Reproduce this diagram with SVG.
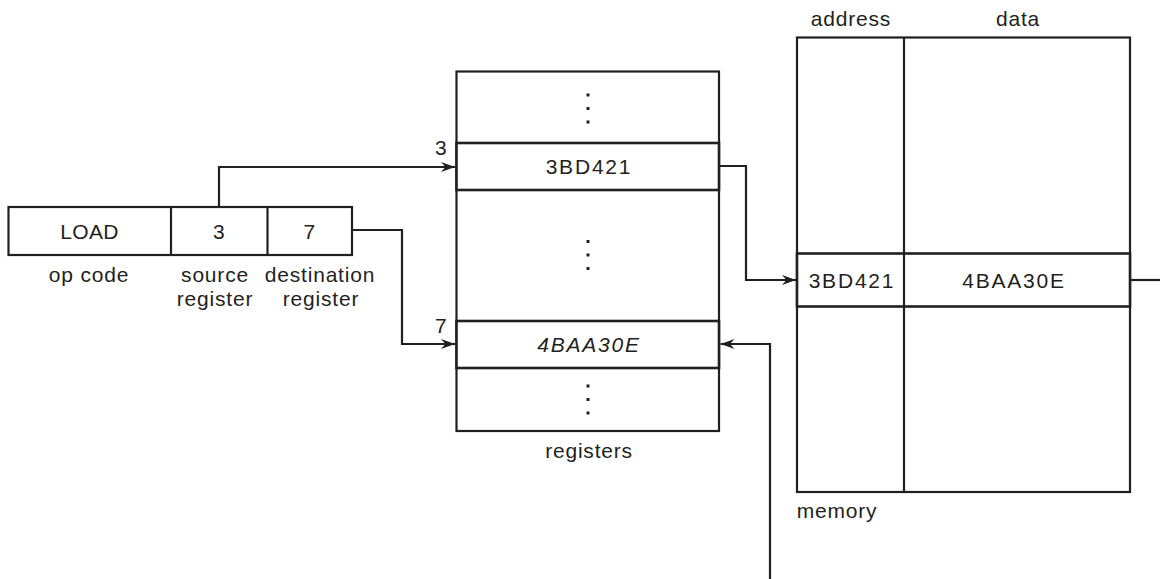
<svg xmlns="http://www.w3.org/2000/svg" width="1160" height="579" viewBox="0 0 1160 579">
<style>
  .box { fill: #ffffff; stroke: #231f20; stroke-width: 2.2; }
  .row { fill: #ffffff; stroke: #231f20; stroke-width: 2.6; }
  .ln { fill: none; stroke: #231f20; stroke-width: 2.2; }
  .wire { fill: none; stroke: #231f20; stroke-width: 2.2; }
  text { font-family: "Liberation Sans", Arial, sans-serif; font-size: 21px; fill: #231f20; text-anchor: middle; letter-spacing: 0.8px; }
  .cap { letter-spacing: 0.3px; }
  .hex { letter-spacing: 1.8px; }
  .it { font-style: italic; }
  .dot { fill: #231f20; }
</style>
<defs>
  <marker id="arr" markerUnits="userSpaceOnUse" markerWidth="16" markerHeight="12" viewBox="-14 -6 16 12" refX="0" refY="0" orient="auto">
    <path d="M0,0 L-14,-5 L-9.5,0 L-14,5 Z" fill="#231f20"/>
  </marker>
</defs>

<g id="instruction">
  <rect class="box" x="8.5" y="207" width="343.5" height="48"/>
  <line class="ln" x1="171" y1="207" x2="171" y2="255"/>
  <line class="ln" x1="267.5" y1="207" x2="267.5" y2="255"/>
  <text class="cap" x="89.5" y="239">LOAD</text>
  <text class="cap" x="219" y="239">3</text>
  <text class="cap" x="309.5" y="239">7</text>
  <text x="89" y="282">op code</text>
  <text x="215" y="282">source</text>
  <text x="215" y="306">register</text>
  <text x="320" y="282">destination</text>
  <text x="321" y="306">register</text>
</g>

<g id="registers">
  <rect class="box" x="456.5" y="71.5" width="262.5" height="359.5"/>
  <rect class="row" x="456.5" y="143" width="262.5" height="47"/>
  <rect class="row" x="456.5" y="321" width="262.5" height="47"/>
  <rect class="dot" x="586.5" y="93.5" width="3" height="3"/>
  <rect class="dot" x="586.5" y="107" width="3" height="3"/>
  <rect class="dot" x="586.5" y="120.5" width="3" height="3"/>
  <rect class="dot" x="586.5" y="240" width="3" height="3"/>
  <rect class="dot" x="586.5" y="253.5" width="3" height="3"/>
  <rect class="dot" x="586.5" y="267" width="3" height="3"/>
  <rect class="dot" x="586.5" y="384.5" width="3" height="3"/>
  <rect class="dot" x="586.5" y="398" width="3" height="3"/>
  <rect class="dot" x="586.5" y="411.5" width="3" height="3"/>
  <text class="hex" x="589" y="174">3BD421</text>
  <text class="hex it" x="589" y="352">4BAA30E</text>
  <text x="589" y="458">registers</text>
  <text class="cap" x="441" y="155">3</text>
  <text class="cap" x="441" y="333">7</text>
</g>

<g id="memory">
  <rect class="box" x="797" y="37.5" width="333" height="454.5"/>
  <line class="ln" x1="904" y1="37.5" x2="904" y2="492"/>
  <rect class="row" x="797" y="253.5" width="333" height="53"/>
  <line class="ln" x1="904" y1="253.5" x2="904" y2="306.5"/>
  <text x="851" y="26">address</text>
  <text x="1018" y="26">data</text>
  <text class="hex" x="852" y="288">3BD421</text>
  <text class="hex" x="1014" y="288">4BAA30E</text>
  <text x="837" y="518">memory</text>
</g>

<g id="connectors">
  <path class="wire" d="M219,207 V167 H455" marker-end="url(#arr)"/>
  <path class="wire" d="M352,230 H402 V344 H455" marker-end="url(#arr)"/>
  <path class="wire" d="M719,166 H746 V280 H796" marker-end="url(#arr)"/>
  <path class="wire" d="M1130,280 H1160"/>
  <path class="wire" d="M770,579 V344 H720.5" marker-end="url(#arr)"/>
</g>
</svg>
